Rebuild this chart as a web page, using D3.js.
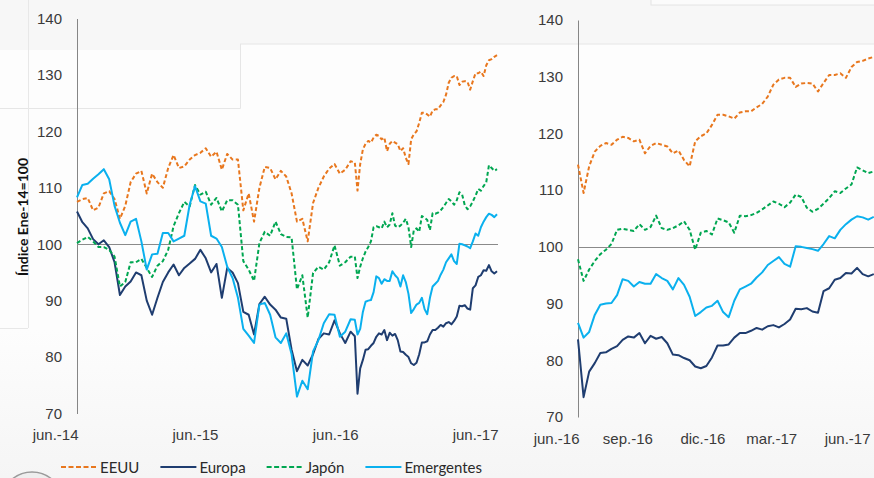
<!DOCTYPE html>
<html>
<head>
<meta charset="utf-8">
<script src="https://cdn.jsdelivr.net/npm/d3@7"></script>
<style>
  body { margin: 0; background: #fdfdfd; }
  svg { display: block; font-family: Lato, "Open Sans", sans-serif; }
</style>
</head>
<body>
<svg id="chart" width="874" height="478"></svg>
<script>
const datesEarly = d3.timeDay.range(new Date(2014, 5, 27), new Date(2016, 5, 11), 14);
const datesLate = d3.timeDay.range(new Date(2016, 5, 21), new Date(2017, 5, 28), 7);
const dates = datesEarly.concat(datesLate);

const eeuu = [
  107.5,108,108.2,106,106.5,109,109.4,108,104.5,106.8,111,112.5,113,109,112.5,111,110,113.5,115.8,113.5,
  113.8,115,115.8,116.2,117,115.5,116.4,113.2,116,115,115,106,109,104,110,113.7,113.5,111.5,113,112,
  109,104,104.5,100.5,107.3,110,112,113.4,114.2,112.5,113.2,114.7,
  114.5,109.5,114.2,116.8,117.8,118.3,118,118.9,119.4,119.2,118.6,118.9,116.5,117.8,118.3,118,117.7,116.5,117,115.3,
  114.2,118.6,119.5,120,121.5,123.3,123.3,123,122.6,123.7,123.9,123.9,124.6,125.2,126.5,128.6,129.5,129.8,129.8,128.2,
  128.8,128.9,128.8,127.4,128.9,130.3,130.3,130.6,129.8,131.7,132.6,132.8,133.2,133.5
];
const europa = [
  105.8,103.9,102.8,100.9,100,100.7,99.5,96.8,91,92.5,93.4,95,94.5,90,87.5,90.5,93.3,95,96.4,94.5,
  95.8,96.6,97.4,99,97.5,95,96.5,90.5,95.8,95,93.1,88,87.5,84,89.4,90.7,89.3,88.4,87,86.8,
  81.3,77.5,79.5,78.5,80.5,83.2,84.2,84,86.5,84.2,82.5,84.5,
  83.7,73.5,78,79.5,81.3,81.4,82,82.5,83.6,84.2,84,84.8,83,84.3,83.8,84.1,83,81,80.9,80.4,
  80,78.9,78.6,79,80.5,82.6,82.6,82.8,84,84.8,84.8,85.2,85.7,85.4,86,86.2,85.8,86.4,87.2,89.1,
  89,89.2,88.6,88.4,92.2,92.7,94.2,94.5,95.4,95.3,96.3,95.2,94.8,95.2
];
const japon = [
  100.2,100.8,101.3,100.5,99.5,99.5,99,97.8,92.5,93.3,96.8,96.8,97.4,95.8,94.2,96.2,97,99,103.2,105.5,
  107.5,106.7,110.5,108.8,109.3,107,108.2,105.8,107.8,107.8,107,97,95.5,93.5,100.2,102.2,101.5,104,101.8,101.3,
  101.2,92,94.5,87,94.9,96,95.5,96.8,99.8,96.2,96.8,97.8,
  97.8,94,96,97.5,98.7,99.5,100.5,103,103.2,103,102.8,104,103,103.5,105.5,103.3,103,103.3,103.8,104.5,
  103,99.5,102.5,102.8,102.2,105,104.7,104.3,102.5,105.5,105.4,105.6,106,106.6,107.3,108,107.6,107,107.8,109.2,
  108.8,106.9,106.2,106.7,107.6,108.6,109.8,109.5,110.3,111,114,113.5,113,113.3
];
const emergentes = [
  108.3,110.5,110.7,111.6,112.4,113.3,111.5,106.8,103.8,101.6,104,104.5,100.5,95.5,98.2,98.3,102,102,100.5,101,
  101.5,107,110.3,107.6,107.2,101.5,101,99.5,96,94,90.5,85,83.8,82.5,89.3,89.6,87.5,83.5,82.5,84.2,
  80.5,73,75.8,74.3,81,83,86,87.6,87.5,83.6,84.5,86.7,
  86.6,84,85,88,89.8,90,90.1,91.5,94.3,94,93,93.8,93.5,93.5,95.2,94.5,94,92.5,94.5,93.3,
  91.2,87.8,88.5,89.3,89.6,90.5,88.5,87.6,90.5,92.5,93,93.5,94.6,95.5,96.8,97.5,98.2,97,96.5,100.1,
  100,99.8,99.6,99.3,100.5,101.9,101.5,103,104,104.8,105.4,105.2,104.8,105.3
];

const yTicks = [70, 80, 90, 100, 110, 120, 130, 140];
const leftTickDates = [new Date(2014, 5, 27), new Date(2015, 5, 27), new Date(2016, 5, 27), new Date(2017, 5, 27)];
const leftTickLabels = ["jun.-14", "jun.-15", "jun.-16", "jun.-17"];
const rightTickDates = [new Date(2016, 5, 21), new Date(2016, 8, 21), new Date(2016, 11, 21), new Date(2017, 2, 21), new Date(2017, 5, 21)];
const rightTickLabels = ["jun.-16", "sep.-16", "dic.-16", "mar.-17", "jun.-17"];

const series = [
  { name: "EEUU", values: eeuu, color: "#E8771E", dash: "4,2.5" },
  { name: "Europa", values: europa, color: "#1F3D70", dash: null },
  { name: "Japón", values: japon, color: "#00A651", dash: "4,2.5" },
  { name: "Emergentes", values: emergentes, color: "#0AB0EE", dash: null }
];

const svg = d3.select("#chart");

// fondo con las marcas tenues de la captura
let bg = svg.append("g");
let grad = svg.append("defs").append("linearGradient")
  .attr("id", "fade").attr("x1", 0).attr("y1", 0).attr("x2", 0).attr("y2", 1);
grad.append("stop").attr("offset", "0").attr("stop-color", "#fdfdfd");
grad.append("stop").attr("offset", "1").attr("stop-color", "#f5f5f5");
bg.append("rect").attr("width", 874).attr("height", 478).attr("fill", "#fdfdfd");
bg.append("rect").attr("y", 330).attr("width", 874).attr("height", 148).attr("fill", "url(#fade)");
bg.append("rect").attr("width", 874).attr("height", 44).attr("fill", "#f7f7f7");
bg.append("rect").attr("width", 240).attr("height", 50).attr("fill", "#f7f7f7");
bg.append("path").attr("d", "M0,108.5H240.5V44").attr("fill", "none").attr("stroke", "#e6e6e6");
bg.append("line").attr("x1", 240).attr("x2", 874).attr("y1", 44).attr("y2", 44).attr("stroke", "#e6e6e6");
bg.append("line").attr("x1", 28.5).attr("x2", 28.5).attr("y1", 0).attr("y2", 328).attr("stroke", "#e8e8e8");
bg.append("line").attr("x1", 0).attr("x2", 28).attr("y1", 328.5).attr("y2", 328.5).attr("stroke", "#e8e8e8");
bg.append("rect").attr("x", 651).attr("y", -4).attr("width", 230).attr("height", 9)
  .attr("fill", "#fbfbfb").attr("stroke", "#e4e4e4");
bg.append("circle").attr("cx", 32).attr("cy", 503).attr("r", 31)
  .attr("fill", "#eeeeee").attr("stroke", "#9a9a9a").attr("stroke-width", 1.5);

function drawPanel(x, y, tickDates, tickLabels, from, lineEnd) {
  let g = svg.append("g");
  let idx = d3.range(dates.length).filter(i => dates[i] >= from);

  g.append("g")
    .attr("transform", "translate(" + x.range()[0] + ",0)")
    .call(d3.axisLeft(y).tickValues(yTicks).tickSize(0).tickSizeOuter(0).tickPadding(15))
    .call(a => a.select(".domain").attr("stroke", "#868686"))
    .call(a => a.selectAll("text").attr("fill", "#3a3a3a").style("font-size", "15px"));

  g.append("g")
    .attr("transform", "translate(0," + (y.range()[0] + 13) + ")")
    .call(d3.axisBottom(x).tickValues(tickDates).tickSize(0)
      .tickFormat((d, i) => tickLabels[i]))
    .call(a => a.select(".domain").remove())
    .call(a => a.selectAll("text").attr("fill", "#3a3a3a").attr("text-anchor", "end")
      .attr("dx", 1).style("font-size", "15px"));

  g.append("line")
    .attr("x1", x.range()[0]).attr("x2", lineEnd)
    .attr("y1", Math.round(y(100)) + 0.5).attr("y2", Math.round(y(100)) + 0.5)
    .attr("stroke", "#8a8a8a").attr("stroke-width", 1);

  series.forEach(function(s) {
    let line = d3.line()
      .x(i => x(dates[i]))
      .y(i => y(s.values[i]));
    g.append("path")
      .attr("d", line(idx))
      .attr("fill", "none")
      .attr("stroke", s.color)
      .attr("stroke-width", 2)
      .attr("stroke-linejoin", "round")
      .attr("stroke-dasharray", s.dash);
  });
}

const xL = d3.scaleTime().domain([new Date(2014, 5, 27), new Date(2017, 5, 27)]).range([77, 497]);
const yL = d3.scaleLinear().domain([70, 140]).range([413.5, 18.5]);
const xR = d3.scaleTime().domain([new Date(2016, 5, 21), new Date(2017, 5, 30)]).range([578, 876.2]);
const yR = d3.scaleLinear().domain([70, 140]).range([417, 20]);

drawPanel(xL, yL, leftTickDates, leftTickLabels, dates[0], 498);
drawPanel(xR, yR, rightTickDates, rightTickLabels, datesLate[0], 874);

svg.append("text")
  .attr("transform", "translate(28,217) rotate(-90)")
  .attr("text-anchor", "middle")
  .attr("font-weight", "bold")
  .style("font-size", "14px")
  .attr("fill", "#111")
  .text("Índice Ene-14=100");

// leyenda
let lx = 61;
series.forEach(function(s) {
  let item = svg.append("g").attr("transform", "translate(" + lx + ",467)");
  item.append("line").attr("x1", 0).attr("x2", 36).attr("y1", 0).attr("y2", 0)
    .attr("stroke", s.color).attr("stroke-width", 2).attr("stroke-dasharray", s.dash ? "5,2.5" : null);
  let t = item.append("text").attr("x", 39).attr("y", 5.5)
    .style("font-size", "15px").attr("fill", "#2a2a2a").text(s.name);
  lx += 39 + t.node().getComputedTextLength() + 21;
});
</script>
</body>
</html>
